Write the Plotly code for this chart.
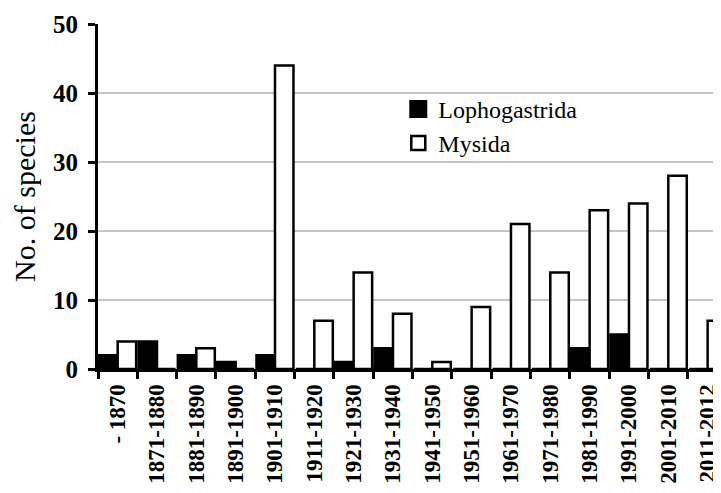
import plotly.graph_objects as go

categories = ["- 1870", "1871-1880", "1881-1890", "1891-1900", "1901-1910", "1911-1920",
              "1921-1930", "1931-1940", "1941-1950", "1951-1960", "1961-1970", "1971-1980",
              "1981-1990", "1991-2000", "2001-2010", "2011-2012"]
lophogastrida = [2, 4, 2, 1, 2, 0, 1, 3, 0, 0, 0, 0, 3, 5, 0, 0]
mysida = [4, 0, 3, 0, 44, 7, 14, 8, 1, 9, 21, 14, 23, 24, 28, 7]
y_ticks = [0, 10, 20, 30, 40, 50]

serif = "Liberation Serif, Times New Roman, serif"

fig = go.Figure()
fig.add_trace(go.Bar(x=categories, y=lophogastrida, name="Lophogastrida", showlegend=False,
                     marker=dict(color="black", line=dict(color="black", width=2.5))))
fig.add_trace(go.Bar(x=categories, y=mysida, name="Mysida", showlegend=False,
                     marker=dict(color="white", line=dict(color="black", width=2.5))))
# legend entries (square symbols)
fig.add_trace(go.Scatter(x=[None], y=[None], mode="markers", name="Lophogastrida",
                         marker=dict(symbol="square", size=16, color="black",
                                     line=dict(color="black", width=2))))
fig.add_trace(go.Scatter(x=[None], y=[None], mode="markers", name="Mysida",
                         marker=dict(symbol="square", size=14, color="white",
                                     line=dict(color="black", width=2.5))))

fig.update_layout(
    width=721, height=493,
    margin=dict(l=90, r=8, t=16, b=132),
    paper_bgcolor="white", plot_bgcolor="white",
    barmode="group", bargap=0.06, bargroupgap=0,
    showlegend=True,
    legend=dict(x=0.482, y=0.818, xanchor="left", yanchor="top",
                font=dict(family=serif, size=24, color="black"),
                bgcolor="rgba(0,0,0,0)", itemsizing="trace",
                tracegroupgap=0, itemwidth=30),
    font=dict(family=serif, color="black"),
)
fig.update_xaxes(
    type="category", range=[-0.5, 15.34], automargin=False,
    showline=True, linecolor="black", linewidth=3,
    ticks="outside", tickson="boundaries", ticklen=7, tickwidth=2.5, tickcolor="black",
    ticklabelstandoff=3,
    tickangle=-90, tickfont=dict(family=serif, size=23, color="black", weight="bold"),
    showgrid=False,
)
fig.update_yaxes(
    range=[0, 50], tickvals=y_ticks, automargin=False,
    showline=True, linecolor="black", linewidth=3,
    ticks="outside", ticklen=7, tickwidth=2.5, tickcolor="black",
    ticklabelstandoff=5,
    tickfont=dict(family=serif, size=25, color="black", weight="bold"),
    showgrid=True, gridcolor="#c4c4c4", gridwidth=2,
    title=dict(text="No. of species", font=dict(family=serif, size=30, color="black"), standoff=16),
    zeroline=False,
)

fig.write_html("out.html")
